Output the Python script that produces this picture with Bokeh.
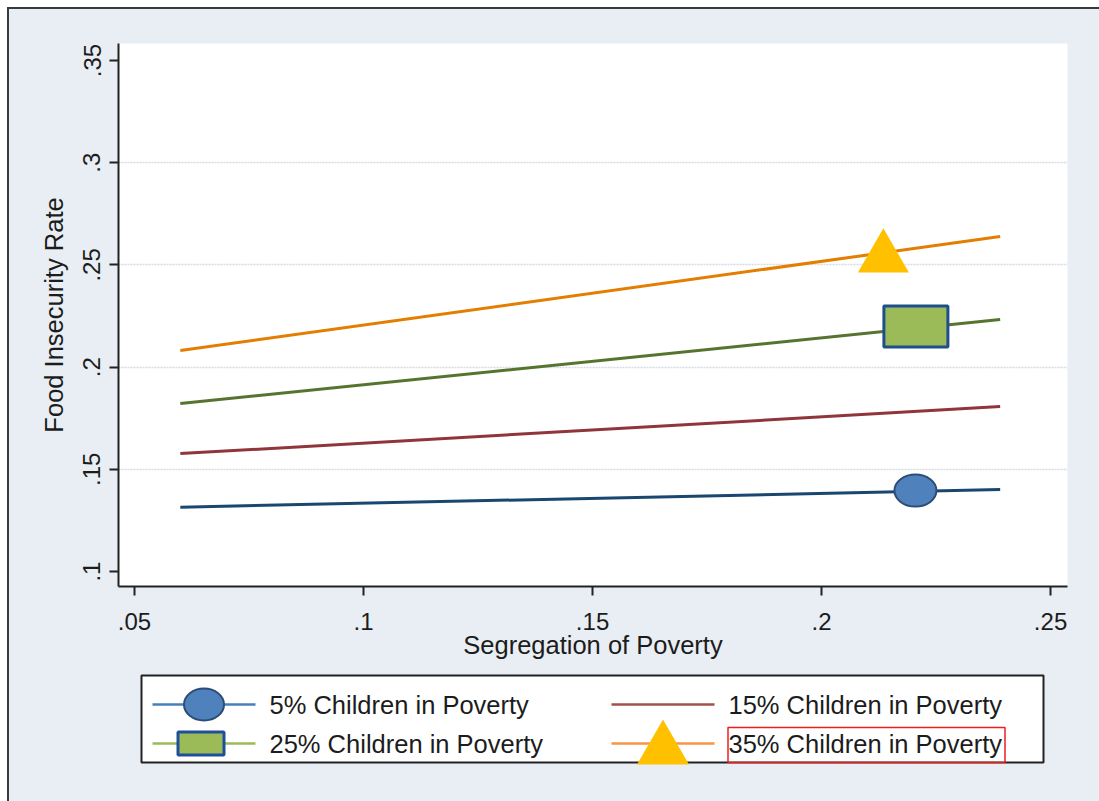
from bokeh.plotting import figure
from bokeh.layouts import column
from bokeh.models import Range1d, FixedTicker
from bokeh.core.properties import value
from bokeh.embed import file_html
from bokeh.resources import INLINE

# ---- data -------------------------------------------------------------
segregation = [0.06, 0.239]                 # predicted-line endpoints (x)
rate_5 = [0.1315, 0.1401]                   # 5% children in poverty
rate_15 = [0.1577, 0.1807]                  # 15% children in poverty
rate_25 = [0.1822, 0.2233]                  # 25% children in poverty
rate_35 = [0.2081, 0.2639]                  # 35% children in poverty

series_labels = ["5% Children in Poverty", "15% Children in Poverty",
                 "25% Children in Poverty", "35% Children in Poverty"]

# highlighted points on the 5%, 25% and 35% lines
mark_x = [0.2205, 0.2206, 0.2135]
mark_y = [0.1396, 0.2199, 0.2535]

x_ticks = [0.05, 0.10, 0.15, 0.20, 0.25]
x_tick_labels = [".05", ".1", ".15", ".2", ".25"]
y_ticks = [0.10, 0.15, 0.20, 0.25, 0.30, 0.35]
y_tick_labels = [".1", ".15", ".2", ".25", ".3", ".35"]
y_grid = [0.15, 0.20, 0.25, 0.30]

# ---- styling ----------------------------------------------------------
FONT = "Liberation Sans"
INK = "#1c1c1c"
BG = "#e8eef3"
line_colors = ["#1a476f", "#90353b", "#55752f", "#e37e00"]

BORDER_L, BORDER_R = 109, 32

# ---- main chart -------------------------------------------------------
p = figure(width=1090, height=661, output_backend="svg", toolbar_location=None,
           x_range=Range1d(0.0465, 0.2537), y_range=Range1d(0.0927, 0.3583),
           min_border_left=BORDER_L, min_border_right=BORDER_R, min_border_top=34,
           min_border_bottom=84)
p.background_fill_color = "white"
p.border_fill_color = BG
p.outline_line_color = None

p.xgrid.visible = False
p.ygrid.ticker = FixedTicker(ticks=y_grid)
p.ygrid.grid_line_color = "#d3dbe4"
p.ygrid.grid_line_width = 1.5
p.ygrid.grid_line_dash = "2 1"

p.xaxis.ticker = FixedTicker(ticks=x_ticks)
p.xaxis.major_label_overrides = dict(zip(x_ticks, x_tick_labels))
p.yaxis.ticker = FixedTicker(ticks=y_ticks)
p.yaxis.major_label_overrides = dict(zip(y_ticks, y_tick_labels))
p.yaxis.major_label_orientation = "vertical"

p.xaxis.axis_label = "Segregation of Poverty"
p.yaxis.axis_label = "Food Insecurity Rate"
for ax in (p.xaxis, p.yaxis):
    ax.axis_line_color = "#222222"
    ax.axis_line_width = 2
    ax.major_tick_line_color = "#222222"
    ax.major_tick_line_width = 2
    ax.major_tick_out = 9
    ax.major_tick_in = 0
    ax.minor_tick_line_color = None
    ax.major_label_text_font = FONT
    ax.major_label_text_font_size = "24px"
    ax.major_label_text_color = INK
    ax.axis_label_text_font = FONT
    ax.axis_label_text_font_size = "25.5px"
    ax.axis_label_text_font_style = "normal"
    ax.axis_label_text_color = INK
p.xaxis.major_label_standoff = 17
p.xaxis.axis_label_standoff = -2
p.yaxis.major_label_standoff = 9
p.yaxis.axis_label_standoff = 13

for ys, c in zip([rate_5, rate_15, rate_25, rate_35], line_colors):
    p.line(segregation, ys, line_color=c, line_width=3)

p.ellipse(x=mark_x[0], y=mark_y[0], width=42, height=32,
          width_units="screen", height_units="screen",
          fill_color="#4f81bd", line_color="#2c4d75", line_width=2)
p.rect(x=mark_x[1], y=mark_y[1], width=64, height=41,
       width_units="screen", height_units="screen",
       fill_color="#9bbb59", line_color="#1f4e8c", line_width=3)
p.scatter(x=[mark_x[2]], y=[mark_y[2]], marker="triangle", size=51,
          fill_color="#ffc000", line_color=None)

# ---- legend panel (pixel coordinates inside the panel) ---------------
PW, PH = 1090 - BORDER_L - BORDER_R, 131
leg = figure(width=1090, height=PH, output_backend="svg", toolbar_location=None,
             x_range=Range1d(0, PW), y_range=Range1d(0, PH),
             x_axis_type=None, y_axis_type=None,
             min_border_left=BORDER_L, min_border_right=BORDER_R,
             min_border_top=0, min_border_bottom=0)
leg.background_fill_alpha = 0
leg.border_fill_color = BG
leg.outline_line_color = None
leg.grid.visible = False

# legend box
box_x0, box_y0, box_w, box_h = 23, 39, 902, 87
leg.rect(x=box_x0 + box_w / 2, y=box_y0 + box_h / 2, width=box_w, height=box_h,
         fill_color="white", line_color="#222222", line_width=2)

col_x = [box_x0 + 11, box_x0 + 470]     # left end of each sample line
sample_len = 103
text_gap = 14
row_y = [box_y0 + 58, box_y0 + 19]      # row centres, top then bottom
legend_colors = ["#4a7ebb", "#a0504d", "#9bbb59", "#f79646"]

for i, (lab, c) in enumerate(zip(series_labels, legend_colors)):
    col, row = i % 2, i // 2
    x0 = col_x[col]
    y = row_y[row]
    leg.line([x0, x0 + sample_len], [y, y], line_color=c, line_width=2.5)
    leg.text(x=[x0 + sample_len + text_gap], y=[y], text=[lab],
             text_font=value(FONT), text_font_size="25.5px",
             text_color=INK, text_baseline="middle", text_align="left")

mid = [x + sample_len / 2 for x in col_x]
leg.ellipse(x=mid[0], y=row_y[0], width=40, height=32,
            fill_color="#4f81bd", line_color="#2c4d75", line_width=2)
leg.rect(x=mid[0] - 3, y=row_y[1], width=46, height=23,
         fill_color="#9bbb59", line_color="#1f4e9a", line_width=3)
leg.scatter(x=[mid[1]], y=[row_y[1] - 6], marker="triangle", size=52,
            fill_color="#ffc000", line_color=None)
# highlight frame around the last entry's label
tx = col_x[1] + sample_len + text_gap
leg.rect(x=tx + 138, y=box_y0 + 17.5, width=277, height=35,
         fill_color=None, line_color="#ee1c1c", line_width=1.5)

layout = column(p, leg, margin=(7, 0, 0, 7),
                styles={"border-top": "2px solid #3a3a3a",
                        "border-left": "2px solid #3a3a3a",
                        "background-color": BG})

open("out.html", "w").write(file_html(layout, INLINE))
